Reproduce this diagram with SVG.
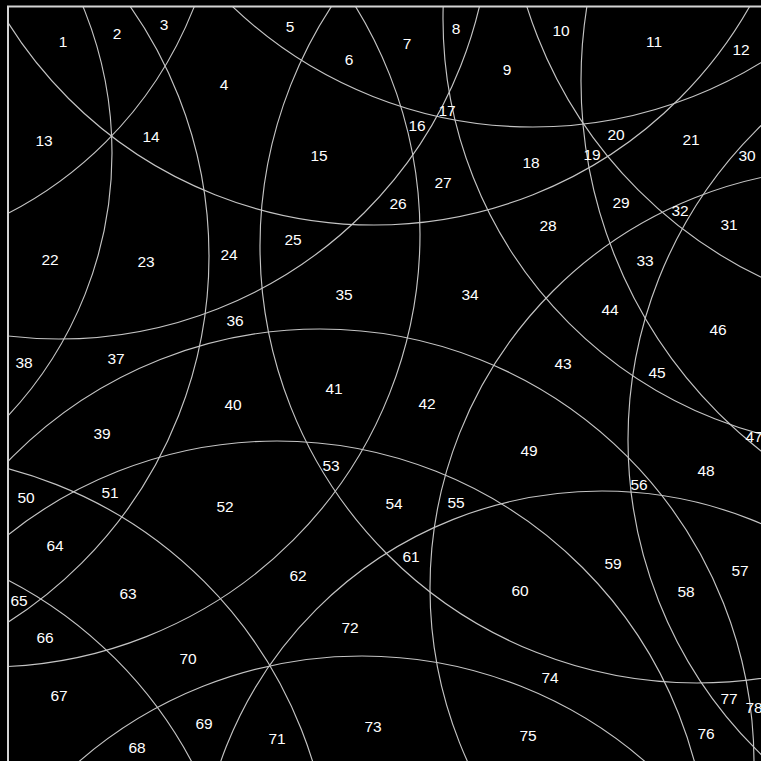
<svg xmlns="http://www.w3.org/2000/svg" width="761" height="761" viewBox="0 0 761 761">
<style>
.c{fill:none;stroke:#c4c4c4;stroke-width:1.15}
.t{font-family:"Liberation Sans",Arial,sans-serif;font-size:15.5px;fill:#ffffff;text-anchor:middle;dominant-baseline:central}
</style>
<defs><clipPath id="clip"><rect x="8" y="7" width="800" height="800"/></clipPath></defs>
<rect width="761" height="761" fill="#000"/>
<g id="circles" clip-path="url(#clip)">
<circle class="c" cx="374" cy="-207" r="432"/>
<circle class="c" cx="533" cy="-308" r="435"/>
<circle class="c" cx="-272" cy="153" r="384"/>
<circle class="c" cx="-225" cy="256" r="434"/>
<circle class="c" cx="-172" cy="-136" r="393"/>
<circle class="c" cx="697" cy="246" r="437"/>
<circle class="c" cx="-13" cy="234" r="433"/>
<circle class="c" cx="873" cy="19" r="430"/>
<circle class="c" cx="59" cy="-93" r="432"/>
<circle class="c" cx="957" cy="-129" r="451"/>
<circle class="c" cx="1051" cy="81" r="470"/>
<circle class="c" cx="1066" cy="440" r="438"/>
<circle class="c" cx="850" cy="588" r="420"/>
<circle class="c" cx="320" cy="763" r="434"/>
<circle class="c" cx="277" cy="873" r="432"/>
<circle class="c" cx="602" cy="895" r="404"/>
<circle class="c" cx="362" cy="1088" r="432"/>
<circle class="c" cx="-104" cy="890" r="436"/>
<circle class="c" cx="-193" cy="967" r="436"/>
</g>
<rect id="frame" x="8" y="6.5" width="1000" height="1000" fill="none" stroke="#d4d4d4" stroke-width="2"/>
<g id="labels" class="t">
<text x="63" y="41.5">1</text>
<text x="117" y="33.5">2</text>
<text x="164" y="24.5">3</text>
<text x="224" y="84.5">4</text>
<text x="290" y="26.5">5</text>
<text x="349" y="59.5">6</text>
<text x="407" y="43.5">7</text>
<text x="456" y="28.5">8</text>
<text x="507" y="69.5">9</text>
<text x="561" y="30.5">10</text>
<text x="654" y="41.5">11</text>
<text x="741" y="49.5">12</text>
<text x="44" y="140.5">13</text>
<text x="151" y="136.5">14</text>
<text x="319" y="155.5">15</text>
<text x="417" y="125.5">16</text>
<text x="447" y="110.5">17</text>
<text x="531" y="162.5">18</text>
<text x="592" y="154.5">19</text>
<text x="616" y="134.5">20</text>
<text x="691" y="139.5">21</text>
<text x="50" y="259.5">22</text>
<text x="146" y="261.5">23</text>
<text x="229" y="254.5">24</text>
<text x="293" y="239.5">25</text>
<text x="398" y="203.5">26</text>
<text x="443" y="182.5">27</text>
<text x="548" y="225.5">28</text>
<text x="621" y="202.5">29</text>
<text x="747" y="155.5">30</text>
<text x="729" y="224.5">31</text>
<text x="680" y="210.5">32</text>
<text x="645" y="260.5">33</text>
<text x="470" y="294.5">34</text>
<text x="344" y="294.5">35</text>
<text x="235" y="320.5">36</text>
<text x="116" y="358.5">37</text>
<text x="24" y="362.5">38</text>
<text x="102" y="433.5">39</text>
<text x="233" y="404.5">40</text>
<text x="334" y="388.5">41</text>
<text x="427" y="403.5">42</text>
<text x="563" y="363.5">43</text>
<text x="610" y="309.5">44</text>
<text x="657" y="372.5">45</text>
<text x="718" y="329.5">46</text>
<text x="754" y="436.5">47</text>
<text x="706" y="470.5">48</text>
<text x="529" y="450.5">49</text>
<text x="26" y="497.5">50</text>
<text x="110" y="492.5">51</text>
<text x="225" y="506.5">52</text>
<text x="331" y="465.5">53</text>
<text x="394" y="503.5">54</text>
<text x="456" y="502.5">55</text>
<text x="639" y="484.5">56</text>
<text x="740" y="570.5">57</text>
<text x="686" y="591.5">58</text>
<text x="613" y="563.5">59</text>
<text x="520" y="590.5">60</text>
<text x="411" y="556.5">61</text>
<text x="298" y="575.5">62</text>
<text x="128" y="593.5">63</text>
<text x="55" y="545.5">64</text>
<text x="19" y="600.5">65</text>
<text x="45" y="637.5">66</text>
<text x="59" y="695.5">67</text>
<text x="137" y="747.5">68</text>
<text x="204" y="723.5">69</text>
<text x="188" y="658.5">70</text>
<text x="277" y="738.5">71</text>
<text x="350" y="627.5">72</text>
<text x="373" y="726.5">73</text>
<text x="550" y="677.5">74</text>
<text x="528" y="735.5">75</text>
<text x="706" y="733.5">76</text>
<text x="729" y="698.5">77</text>
<text x="754" y="707.5">78</text>
</g>
</svg>
